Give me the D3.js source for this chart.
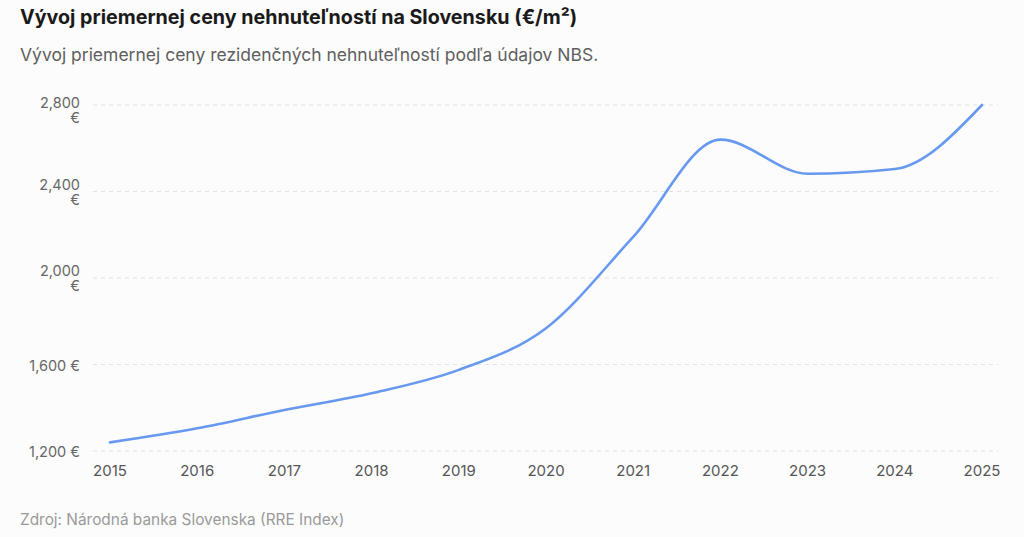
<!DOCTYPE html>
<html>
<head>
<meta charset="utf-8">
<script src="https://cdn.jsdelivr.net/npm/d3@7"></script>
<style>
  html, body { margin: 0; padding: 0; background: #fcfcfc; }
  svg { display: block; font-family: Inter, "Noto Sans", sans-serif; }
</style>
</head>
<body>
<div id="chart"></div>
<script>
const years = [2015, 2016, 2017, 2018, 2019, 2020, 2021, 2022, 2023, 2024, 2025];
const prices = [1240, 1305, 1390, 1467, 1575, 1768, 2190, 2640, 2482, 2504, 2800];
const yTicks = [1200, 1600, 2000, 2400, 2800];
// the first three tick labels wrap onto two lines in the original
const wrapped = [2000, 2400, 2800];

const title = "Vývoj priemernej ceny nehnuteľností na Slovensku (€/m²)";
const subtitle = "Vývoj priemernej ceny rezidenčných nehnuteľností podľa údajov NBS.";
const source = "Zdroj: Národná banka Slovenska (RRE Index)";

const W = 1024, H = 537;
const svg = d3.select("#chart").append("svg")
    .attr("width", W)
    .attr("height", H);

svg.append("rect").attr("width", W).attr("height", H).attr("fill", "#fcfcfc");

svg.append("text")
    .attr("x", 20).attr("y", 24)
    .attr("font-size", 19.7).attr("font-weight", 700).attr("fill", "#1a1a1a")
    .text(title);

svg.append("text")
    .attr("x", 20).attr("y", 61)
    .attr("font-size", 17.5).attr("fill", "#5f5f5f")
    .text(subtitle);

const x = d3.scaleLinear().domain([2015, 2025]).range([110, 982]);
const y = d3.scaleLinear().domain([1200, 2800]).range([451, 105]);

// gridlines
svg.append("g")
    .selectAll("line")
    .data(yTicks)
    .join("line")
    .attr("x1", 93).attr("x2", 998)
    .attr("y1", d => y(d)).attr("y2", d => y(d))
    .attr("stroke", "#e2e2e2")
    .attr("stroke-dasharray", "4,4");

// y labels (two-line ones are centred on the grid, but kept inside the top)
const fmt = d3.format(",");
const yl = svg.append("g")
    .attr("font-size", 14.5).attr("fill", "#666")
    .attr("text-anchor", "end");
yTicks.forEach(v => {
    if (wrapped.includes(v)) {
        const base = Math.max(y(v) - 2, 108);
        yl.append("text").attr("x", 80).attr("y", base).text(fmt(v));
        yl.append("text").attr("x", 80).attr("y", base + 15).text("€");
    } else {
        yl.append("text").attr("x", 80).attr("y", y(v) + 6).text(fmt(v) + " €");
    }
});

// x labels
svg.append("g")
    .attr("font-size", 15).attr("fill", "#555")
    .attr("text-anchor", "middle")
    .selectAll("text")
    .data(years)
    .join("text")
    .attr("x", d => x(d))
    .attr("y", 476)
    .text(d => d);

const line = d3.line()
    .x((d, i) => x(years[i]))
    .y(d => y(d))
    .curve(d3.curveMonotoneX);

svg.append("path")
    .datum(prices)
    .attr("d", line)
    .attr("fill", "none")
    .attr("stroke", "#6699ef")
    .attr("stroke-width", 2.6)
    .attr("stroke-linecap", "round");

svg.append("text")
    .attr("x", 20).attr("y", 525)
    .attr("font-size", 15.4).attr("fill", "#9a9a9a")
    .text(source);
</script>
</body>
</html>
